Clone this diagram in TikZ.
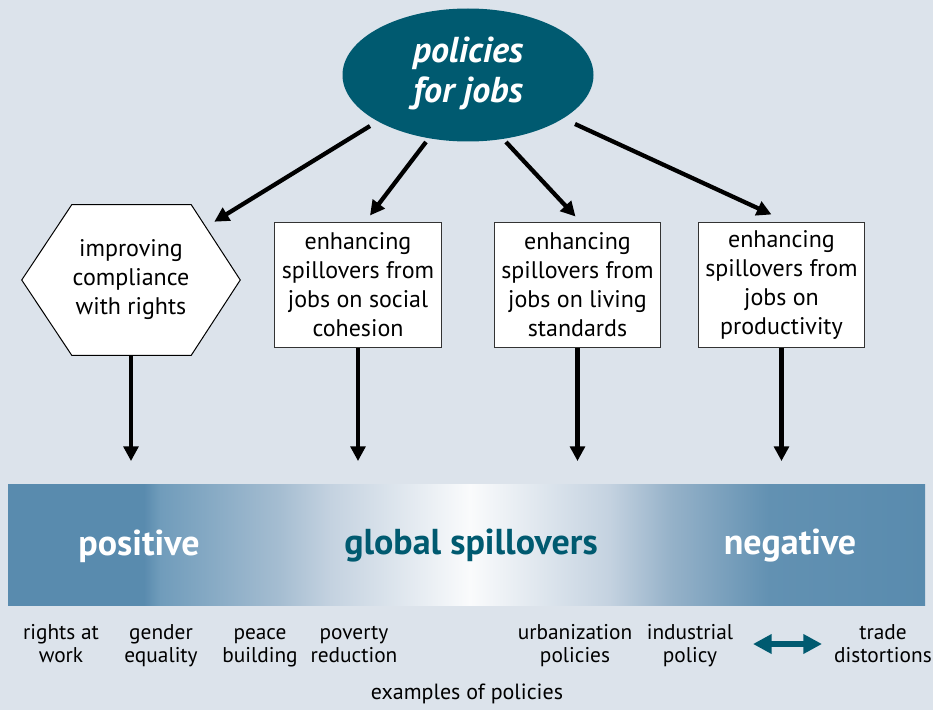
\documentclass[tikz,border=0pt]{standalone}
\usepackage{fontspec}
\setmainfont{PT Sans}
\usetikzlibrary{shapes.geometric,arrows.meta,calc}
\definecolor{bgc}{RGB}{220,227,235}
\definecolor{pteal}{RGB}{0,90,112}
\definecolor{bandA}{RGB}{89,139,174}
\definecolor{bandB}{RGB}{112,156,187}
\definecolor{bandC}{RGB}{165,189,209}
\definecolor{bandD}{RGB}{196,210,224}
\definecolor{bandW}{RGB}{250,251,252}
\definecolor{bandE}{RGB}{150,178,201}
\definecolor{bandF}{RGB}{98,145,178}
\pgfdeclarehorizontalshading{bandshade}{100bp}{color(0bp)=(bandA); color(25bp)=(bandA); color(32.4bp)=(bandA); color(33.3bp)=(bandB); color(39.8bp)=(bandC); color(42.6bp)=(bandD); color(50.2bp)=(bandW); color(57.8bp)=(bandD); color(61.1bp)=(bandE); color(66.5bp)=(bandF); color(75bp)=(bandA); color(100bp)=(bandA)}
\begin{document}
\begin{tikzpicture}[x=0.75pt,y=-0.75pt,
  arr/.style={line width=3.2pt,-{Triangle[length=11pt,width=11pt]}},
  bx/.style={draw=black!80,line width=0.75pt,fill=white,minimum width=125pt,minimum height=93.75pt,align=center,inner sep=0pt,font=\fontsize{18}{21.75}\selectfont},
  lbl/.style={align=center,inner sep=0pt,font=\fontsize{16}{17.25}\selectfont,text height=20pt,text depth=5pt},
  bandtxt/.style={inner sep=0pt,font=\fontsize{27}{30}\selectfont\bfseries}]
\fill[bgc] (0,0) rectangle (933,710);
\useasboundingbox (0,0) rectangle (933,710);

% top ellipse
\node[ellipse,fill=pteal,minimum width=188.25pt,minimum height=99.75pt,inner sep=0pt] (top) at (468,75) {};
\node[text=white,align=center,inner sep=0pt,font=\fontsize{27}{30}\selectfont\bfseries\itshape] (toptxt) at (468,73) {policies\\for jobs};

% hexagon
\node[minimum width=163.5pt,minimum height=112.5pt,inner sep=0pt] (hex) at (131,280) {};
\draw[black,line width=0.75pt,fill=white] (hex.west) -- ($(hex.north west)+(50,0)$) -- ($(hex.north east)+(-49,0)$) -- (hex.east) -- ($(hex.south east)+(-49,0)$) -- ($(hex.south west)+(50,0)$) -- cycle;
\node[align=center,inner sep=0pt,font=\fontsize{18}{21.75}\selectfont] (hextxt) at (131,280) {improving\\compliance\\with rights};

% boxes
\node[bx] (box1) at (358,284.5) {enhancing\\spillovers from\\jobs on social\\cohesion};
\node[bx] (box2) at (577.5,284.5) {enhancing\\spillovers from\\jobs on living\\standards};
\node[bx] (box3) at (781.5,284.5) {enhancing\\spillovers from\\jobs on\\productivity};

% arrows from ellipse
\draw[arr] ($(top.center)+(-98,51)$) -- ($(hex.north east)+(-26,17)$);
\draw[arr] ($(top.center)+(-42,67)$) -- ($(box1.north)+(12,-6)$);
\draw[arr] ($(top.center)+(38,67)$) -- ($(box2.north)+(-2,-5)$);
\draw[arr] ($(top.center)+(107,49)$) -- ($(box3.north)+(-10,-7)$);

% band
\node[shading=bandshade,minimum width=687.75pt,minimum height=90.75pt,inner sep=0pt] (band) at (466.5,544.5) {};
\node[bandtxt,text=white] (pos) at (139,546) {positive};
\node[bandtxt,text=pteal] (glob) at (471,546) {global spillovers};
\node[bandtxt,text=white] (neg) at (790,546) {negative};

% vertical arrows
\draw[arr,shorten >=17pt] (hex.south) -- (hex.south |- band.north);
\draw[arr,shorten >=17pt] (box1.south) -- (box1.south |- band.north);
\draw[arr,shorten >=17pt] (box2.south) -- (box2.south |- band.north);
\draw[arr,shorten >=17pt] (box3.south) -- (box3.south |- band.north);

% bottom labels
\node[lbl] (l1) at (61,652) {rights at\\work};
\node[lbl] (l2) at (161,652) {gender\\equality};
\node[lbl] (l3) at (260,652) {peace\\building};
\node[lbl] (l4) at (354,652) {poverty\\reduction};
\node[lbl] (l5) at (575,652) {urbanization\\policies};
\node[lbl] (l6) at (690,652) {industrial\\policy};
\node[lbl] (l7) at (883,652) {trade\\distortions};
\coordinate (da1) at (753,644);
\coordinate (da2) at (822,644);
\draw[pteal,line width=5pt,{Triangle[length=14pt,width=14pt]}-{Triangle[length=14pt,width=14pt]}] (da1) -- (da2);
\node[inner sep=0pt,font=\fontsize{16.5}{18}\selectfont] (ex) at (467,694) {examples of policies};
\end{tikzpicture}
\end{document}
